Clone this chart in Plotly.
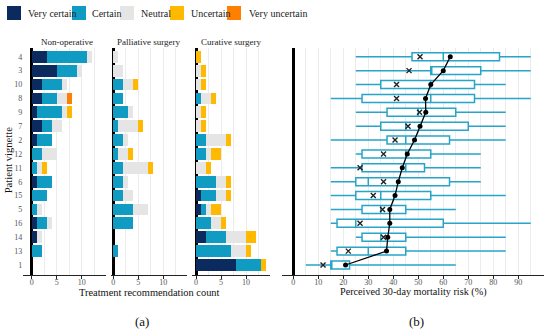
import plotly.graph_objects as go

W, H = 550, 332

vignettes = ["4", "3", "10", "8", "9", "7", "2", "12", "11", "6", "15", "5", "16", "14", "13", "1"]
levels = ["Very certain", "Certain", "Neutral", "Uncertain", "Very uncertain"]
level_colors = ["#0b2b5e", "#0f9bc2", "#e5e5e5", "#ffb900", "#ff8000"]

nonop_vc = [3, 5, 2, 2, 1, 2, 1, 0, 0, 1, 0, 0, 1, 1, 0, 0]
nonop_c = [8, 4, 4, 3, 5, 2, 3, 2, 1, 3, 3, 1, 2, 0, 2, 0]
nonop_n = [1, 1, 1, 2, 1, 2, 0, 3, 1, 0, 0, 1, 1, 1, 0, 0]
nonop_u = [0, 0, 0, 0, 1, 0, 0, 0, 1, 0, 0, 0, 0, 0, 0, 0]
nonop_vu = [0, 0, 0, 1, 0, 0, 0, 0, 0, 0, 0, 0, 0, 0, 0, 0]

pall_vc = [0] * 16
pall_c = [0, 0, 2, 2, 3, 1, 2, 1, 2, 2, 2, 4, 4, 0, 1, 0]
pall_n = [1, 2, 2, 0, 1, 4, 1, 2, 5, 1, 2, 3, 0, 0, 0, 0]
pall_u = [0, 0, 1, 0, 0, 1, 0, 1, 1, 0, 0, 0, 0, 0, 0, 0]
pall_vu = [0] * 16

cur_vc = [0, 0, 0, 0, 0, 0, 0, 0, 0, 0, 1, 1, 0, 2, 0, 8]
cur_c = [0, 0, 0, 1, 0, 0, 2, 2, 0, 4, 3, 1, 3, 4, 7, 5]
cur_n = [0, 1, 1, 2, 1, 1, 4, 1, 2, 2, 2, 1, 2, 4, 3, 0]
cur_u = [1, 1, 1, 1, 1, 1, 1, 2, 1, 1, 1, 2, 1, 2, 1, 1]
cur_vu = [0] * 16

risk_lower = [25, 25, 25, 15, 25, 25, 15, 25, 15, 15, 15, 15, 15, 25, 15, 5]
risk_q1 = [47.5, 55, 35, 27.5, 37.5, 35, 37.5, 27.5, 27.5, 25, 25, 27.5, 17.5, 27.5, 17.5, 15]
risk_median = [60, 55, 55, 55, 50, 45, 45, 45, 45, 30, 35, 35, 25, 35, 30, 15]
risk_q3 = [82.5, 75, 72.5, 72.5, 65, 70, 62.5, 55, 52.5, 62.5, 55, 45, 60, 45, 45, 22.5]
risk_upper = [95, 95, 85, 95, 85, 85, 85, 75, 75, 75, 85, 65, 95, 85, 85, 65]
risk_mean = [50.7, 46.3, 41.3, 41.3, 50.5, 45.9, 40.7, 36.1, 26.7, 36.1, 32, 35.7, 26.7, 36.1, 22, 11.9]
risk_dot = [62.8, 60, 55, 52.9, 53, 50.7, 48.5, 45.6, 43.6, 42, 40.7, 38.6, 38.6, 37.8, 37.3, 20.9]

panels = [
    ("Non-operative", "x", [nonop_vc, nonop_c, nonop_n, nonop_u, nonop_vu]),
    ("Palliative surgery", "x2", [pall_vc, pall_c, pall_n, pall_u, pall_vu]),
    ("Curative surgery", "x3", [cur_vc, cur_c, cur_n, cur_u, cur_vu]),
]

FONT = "Liberation Serif"
BOX_COLOR = "#27a4c8"


def px(x):
    return x / W


def py(y):
    return 1 - y / H


fig = go.Figure()

for title, xa, series in panels:
    for lvl, col, vals in zip(levels, level_colors, series):
        fig.add_trace(go.Bar(
            x=vals, y=vignettes, orientation="h", name=lvl,
            marker=dict(color=col, line=dict(width=0)),
            xaxis=xa, yaxis="y", showlegend=False,
        ))

fig.add_trace(go.Box(
    y=vignettes, q1=risk_q1, median=risk_median, q3=risk_q3,
    lowerfence=risk_lower, upperfence=risk_upper, orientation="h",
    xaxis="x4", yaxis="y", fillcolor="white",
    line=dict(color=BOX_COLOR, width=1.5), whiskerwidth=0,
    boxpoints=False, showlegend=False,
))
fig.add_trace(go.Scatter(
    x=risk_mean, y=vignettes, mode="markers", xaxis="x4", yaxis="y",
    marker=dict(symbol="x-thin", size=5, line=dict(color="#222", width=1.4)),
    showlegend=False,
))
fig.add_trace(go.Scatter(
    x=risk_dot, y=vignettes, mode="lines+markers", xaxis="x4", yaxis="y",
    line=dict(color="black", width=1.3),
    marker=dict(color="black", size=5),
    showlegend=False,
))

tickfont = dict(family=FONT, size=8, color="#555")


def left_axis(dom, rng):
    return dict(
        domain=dom, range=rng, anchor="y", tickvals=[0, 5, 10],
        showgrid=True, gridcolor="#ececec", gridwidth=1,
        minor=dict(dtick=2.5, tick0=0, showgrid=True, gridcolor="#ececec", gridwidth=1),
        zeroline=True, zerolinecolor="black", zerolinewidth=2.5,
        showline=True, linecolor="#222", linewidth=1.3,
        ticks="outside", ticklen=3, tickcolor="#222", tickwidth=1,
        ticklabelstandoff=-4,
        tickfont=tickfont, fixedrange=True,
    )


cats_bottom_up = list(reversed(vignettes))
fig.update_layout(
    width=W, height=H, margin=dict(l=0, r=0, t=0, b=0),
    paper_bgcolor="white", plot_bgcolor="white",
    barmode="stack", bargap=0.15, boxgap=0.18,
    showlegend=False,
    font=dict(family=FONT, color="#222"),
    xaxis=left_axis([px(23.2), px(106.2)], [-1.7, 14.9]),
    xaxis2=left_axis([px(110.8), px(187.3)], [-0.5, 14.8]),
    xaxis3=left_axis([px(192), px(270)], [-0.8, 14.8]),
    xaxis4=dict(
        domain=[px(281.8), px(544)], range=[-4.6, 100.3], anchor="y",
        tickvals=[0, 10, 20, 30, 40, 50, 60, 70, 80, 90],
        showgrid=True, gridcolor="#ececec", gridwidth=1,
        minor=dict(dtick=5, tick0=0, showgrid=True, gridcolor="#ececec", gridwidth=1),
        zeroline=True, zerolinecolor="black", zerolinewidth=2.5,
        showline=True, linecolor="#222", linewidth=1.3,
        ticks="outside", ticklen=3, tickcolor="#222", tickwidth=1,
        ticklabelstandoff=-4,
        tickfont=tickfont, fixedrange=True,
    ),
    yaxis=dict(
        domain=[py(275), py(48)], anchor="x", type="category",
        categoryorder="array", categoryarray=cats_bottom_up,
        range=[-0.72, 15.63], showgrid=False, zeroline=False, showline=False,
        ticks="", tickfont=tickfont, fixedrange=True,
    ),
)

ann = []
for (title, _, _), cx in zip(panels, [66.7, 149, 231]):
    ann.append(dict(text=title, x=px(cx), y=py(41.5), xref="paper", yref="paper",
                    showarrow=False, font=dict(family=FONT, size=9, color="#222"),
                    xanchor="center", yanchor="middle"))
ann.append(dict(text="Treatment recommendation count", x=px(149), y=py(292),
                xref="paper", yref="paper", showarrow=False,
                font=dict(family=FONT, size=10.4, color="#111"), xanchor="center", yanchor="middle"))
ann.append(dict(text="Perceived 30-day mortality risk (%)", x=px(413), y=py(292),
                xref="paper", yref="paper", showarrow=False,
                font=dict(family=FONT, size=10.2, color="#111"), xanchor="center", yanchor="middle"))
ann.append(dict(text="Patient vignette", x=px(8.3), y=py(160), textangle=-90,
                xref="paper", yref="paper", showarrow=False,
                font=dict(family=FONT, size=10.6, color="#111"), xanchor="center", yanchor="middle"))
ann.append(dict(text="(a)", x=px(141.7), y=py(321), xref="paper", yref="paper", showarrow=False,
                font=dict(family=FONT, size=13, color="#111"), xanchor="center", yanchor="middle"))
ann.append(dict(text="(b)", x=px(416), y=py(321), xref="paper", yref="paper", showarrow=False,
                font=dict(family=FONT, size=13, color="#111"), xanchor="center", yanchor="middle"))

# manual legend
leg_sq_x = [7, 72, 120, 170, 227]
leg_tx_x = [26, 90, 139, 189, 247]
shapes = []
for lvl, col, sx, tx in zip(levels, level_colors, leg_sq_x, leg_tx_x):
    shapes.append(dict(type="rect", xref="paper", yref="paper",
                       x0=px(sx), x1=px(sx + 14), y0=py(20), y1=py(6),
                       fillcolor=col, line=dict(width=0)))
    ann.append(dict(text=lvl, x=px(tx), y=py(13), xref="paper", yref="paper", showarrow=False,
                    font=dict(family=FONT, size=10, color="#222"), xanchor="left", yanchor="middle"))

fig.update_layout(annotations=ann, shapes=shapes)

fig.write_html(
    "out.html",
    config={"displayModeBar": False},
    post_script="document.body.style.margin='0';document.body.style.overflow='hidden';",
)
